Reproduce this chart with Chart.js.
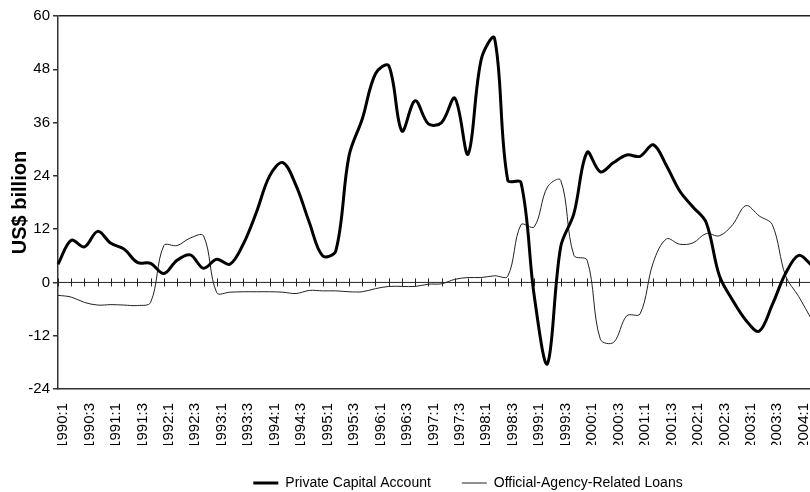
<!DOCTYPE html>
<html>
<head>
<meta charset="utf-8">
<script src="https://cdn.jsdelivr.net/npm/chart.js@4.4.1/dist/chart.umd.min.js"></script>
<style>
	html, body { margin: 0; padding: 0; background: #fff; overflow: hidden; }
	#wrap { width: 810px; height: 492px; overflow: hidden; position: relative; }
	#lineChart { display: block; }
</style>
</head>
<body>
<div id="wrap"><canvas id="lineChart" width="840" height="492"></canvas></div>
<script>
// trimestres 1990:1 - 2004:2
var quarters = [
	'1990:1', '1990:2', '1990:3', '1990:4', '1991:1', '1991:2', '1991:3', '1991:4',
	'1992:1', '1992:2', '1992:3', '1992:4', '1993:1', '1993:2', '1993:3', '1993:4',
	'1994:1', '1994:2', '1994:3', '1994:4', '1995:1', '1995:2', '1995:3', '1995:4',
	'1996:1', '1996:2', '1996:3', '1996:4', '1997:1', '1997:2', '1997:3', '1997:4',
	'1998:1', '1998:2', '1998:3', '1998:4', '1999:1', '1999:2', '1999:3', '1999:4',
	'2000:1', '2000:2', '2000:3', '2000:4', '2001:1', '2001:2', '2001:3', '2001:4',
	'2002:1', '2002:2', '2002:3', '2002:4', '2003:1', '2003:2', '2003:3', '2003:4',
	'2004:1', '2004:2'
];

// US$ billion
var privateCapital = [
	4.1, 9.5, 8.0, 11.5, 8.8, 7.5, 4.5, 4.3,
	2.0, 5.0, 6.2, 3.2, 5.2, 4.1, 8.6, 15.8,
	24.0, 27.0, 21.8, 13.5, 6.0, 7.1, 28.5, 36.8,
	47.0, 48.8, 34.1, 40.9, 35.7, 36.0, 41.5, 28.9,
	50.3, 55.0, 23.0, 22.5, -3.0, -18.3, 8.0, 15.5,
	29.3, 24.9, 27.0, 28.7, 28.4, 31.0, 26.3, 20.6,
	17.0, 13.5, 1.5, -4.0, -8.5, -11.0, -5.0, 2.0,
	6.1, 3.8
];

var officialLoans = [
	-2.9, -3.3, -4.5, -5.1, -5.0, -5.1, -5.2, -4.5,
	8.3, 8.3, 10.0, 10.5, -2.3, -2.2, -2.1, -2.1,
	-2.1, -2.2, -2.5, -1.8, -1.9, -1.9, -2.1, -2.1,
	-1.4, -0.9, -0.9, -0.9, -0.4, -0.3, 0.7, 1.1,
	1.1, 1.5, 1.4, 13.0, 12.5, 21.5, 23.0, 6.1,
	5.0, -12.8, -13.5, -7.5, -7.1, 4.5, 9.8, 8.6,
	8.9, 11.0, 10.5, 13.0, 17.3, 15.0, 13.0, 1.5,
	-3.2, -8.5
];

var yTicks = [-24, -12, 0, 12, 24, 36, 48, 60];

var fuente = 'Liberation Sans, Arial, sans-serif';

// eje del cero con marcas en cada trimestre
var ejeCero = {
	id: 'ejeCero',
	beforeDatasetsDraw: function(chart) {
		var ctx = chart.ctx;
		var area = chart.chartArea;
		var x = chart.scales.x;
		var y0 = chart.scales.y.getPixelForValue(0);
		ctx.save();
		ctx.strokeStyle = '#222';
		ctx.lineWidth = 1;
		ctx.beginPath();
		ctx.moveTo(area.left, y0);
		ctx.lineTo(area.right, y0);
		quarters.forEach(function(q, i) {
			var px = Math.round(x.getPixelForValue(i)) + 0.5;
			ctx.moveTo(px, y0 - 4);
			ctx.lineTo(px, y0 + 4);
		});
		ctx.stroke();
		ctx.restore();
	},
	afterLayout: function(chart) {
		// mover la leyenda hacia la derecha como en el original
		chart.legend.left += 62;
		chart.legend.right += 62;
	}
};

var ctx = document.getElementById('lineChart').getContext('2d');
new Chart(ctx, {
	type: 'line',
	data: {
		labels: quarters,
		datasets: [{
			label: 'Private Capital Account',
			data: privateCapital,
			borderColor: '#000',
			backgroundColor: '#000',
			borderWidth: 3,
			pointRadius: 0,
			tension: 0.35
		}, {
			label: 'Official-Agency-Related Loans',
			data: officialLoans,
			borderColor: '#222',
			backgroundColor: '#222',
			borderWidth: 1,
			pointRadius: 0,
			tension: 0.35
		}]
	},
	options: {
		responsive: false,
		animation: false,
		devicePixelRatio: 1,
		layout: { padding: { left: 0, top: 16, right: 28, bottom: -8 } },
		plugins: {
			tooltip: { enabled: false },
			legend: {
				position: 'bottom',
				labels: {
					usePointStyle: true,
					pointStyle: 'line',
					pointStyleWidth: 25,
					padding: 31,
					color: '#000',
					font: { family: fuente, size: 14 }
				}
			}
		},
		scales: {
			x: {
				afterFit: function(scale) { scale.height = 56; },
				grid: { display: false },
				border: { display: true, color: '#333', width: 1.5 },
				ticks: {
					autoSkip: false,
					minRotation: 90,
					maxRotation: 90,
					padding: 6,
					labelOffset: 5,
					color: '#000',
					font: { family: fuente, size: 15 },
					callback: function(value, index) {
						return index % 2 === 0 ? quarters[index] : '';
					}
				}
			},
			y: {
				min: yTicks[0],
				max: yTicks[yTicks.length - 1],
				afterFit: function(scale) { scale.width = 58; },
				afterBuildTicks: function(scale) {
					scale.ticks = yTicks.map(function(v) { return { value: v }; });
				},
				grid: {
					drawTicks: true,
					tickLength: 5,
					tickColor: '#333',
					lineWidth: 1.5,
					color: function(c) {
						return c.tick && c.tick.value === 60 ? '#222' : 'rgba(0,0,0,0)';
					}
				},
				border: { display: true, color: '#333', width: 1.5 },
				ticks: {
					padding: 3,
					color: '#000',
					font: { family: fuente, size: 15 }
				},
				title: {
					display: true,
					text: 'US$ billion',
					color: '#000',
					padding: { top: 8, bottom: 0 },
					font: { family: fuente, size: 20, weight: 'bold' }
				}
			}
		}
	},
	plugins: [ejeCero]
});
</script>
</body>
</html>
